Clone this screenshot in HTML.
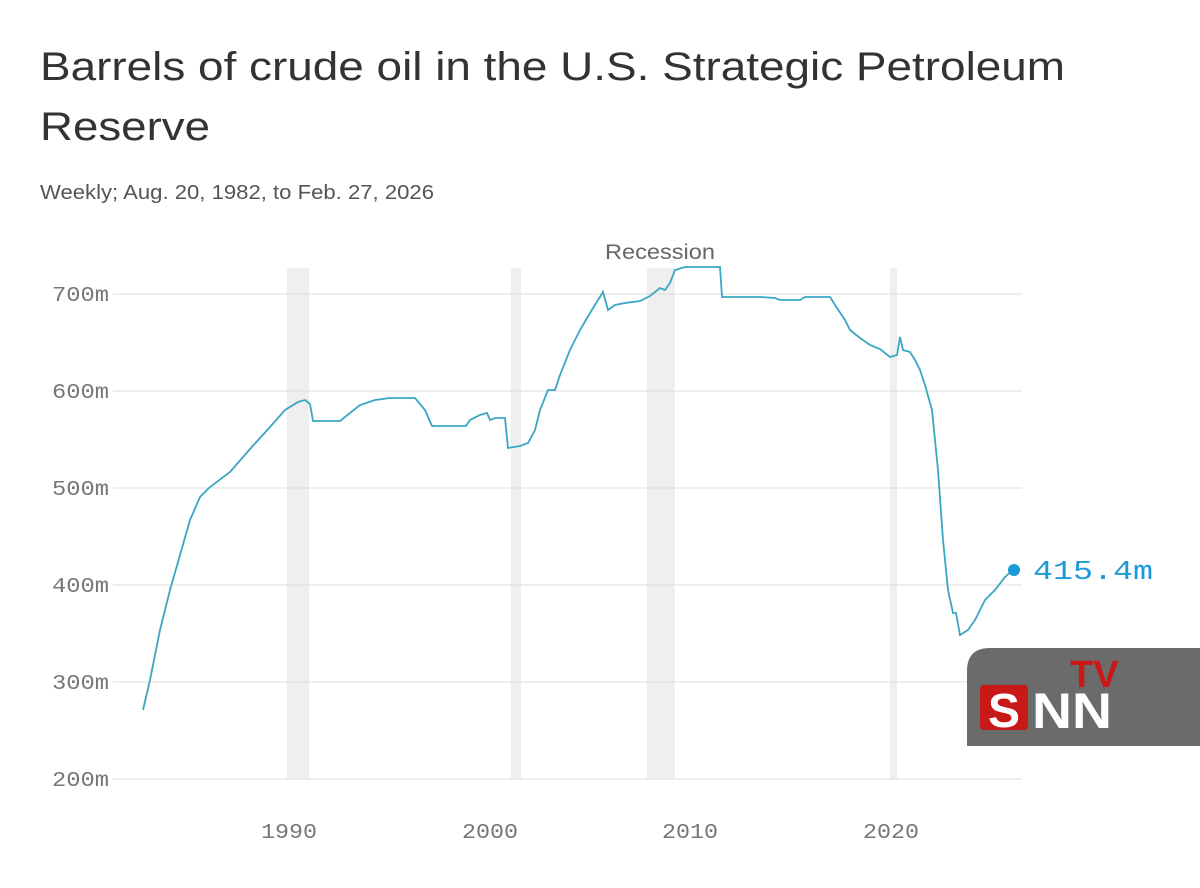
<!DOCTYPE html>
<html><head><meta charset="utf-8"><style>
body{margin:0;width:1200px;height:883px;background:#fff;overflow:hidden;font-family:"Liberation Sans",sans-serif;}
</style></head><body>
<svg width="1200" height="883" viewBox="0 0 1200 883" xmlns="http://www.w3.org/2000/svg">
<text x="40" y="80" font-size="40" fill="#333" font-family="Liberation Sans" textLength="1025" lengthAdjust="spacingAndGlyphs">Barrels of crude oil in the U.S. Strategic Petroleum</text>
<text x="40" y="140" font-size="40" fill="#333" font-family="Liberation Sans" textLength="170" lengthAdjust="spacingAndGlyphs">Reserve</text>
<text x="40" y="199" font-size="20" fill="#555" font-family="Liberation Sans" textLength="394" lengthAdjust="spacingAndGlyphs">Weekly; Aug. 20, 1982, to Feb. 27, 2026</text>
<g fill="#efefef">
<rect x="287" y="268" width="22" height="511"/>
<rect x="511" y="268" width="10" height="511"/>
<rect x="647" y="268" width="28" height="511"/>
<rect x="890" y="268" width="7" height="511"/>
</g>
<g stroke="#ddd" stroke-width="1">
<line x1="113" y1="294" x2="1022" y2="294"/><line x1="113" y1="391" x2="1022" y2="391"/>
<line x1="113" y1="488" x2="1022" y2="488"/><line x1="113" y1="585" x2="1022" y2="585"/>
<line x1="113" y1="682" x2="1022" y2="682"/><line x1="113" y1="779" x2="1022" y2="779"/>
</g>
<g font-family="Liberation Mono" font-size="21" fill="#777">
<text x="52" y="301" textLength="57" lengthAdjust="spacingAndGlyphs">700m</text>
<text x="52" y="398" textLength="57" lengthAdjust="spacingAndGlyphs">600m</text>
<text x="52" y="495" textLength="57" lengthAdjust="spacingAndGlyphs">500m</text>
<text x="52" y="592" textLength="57" lengthAdjust="spacingAndGlyphs">400m</text>
<text x="52" y="689" textLength="57" lengthAdjust="spacingAndGlyphs">300m</text>
<text x="52" y="786" textLength="57" lengthAdjust="spacingAndGlyphs">200m</text>
</g>
<g font-family="Liberation Mono" font-size="21" fill="#777">
<text x="261" y="838" textLength="56" lengthAdjust="spacingAndGlyphs">1990</text>
<text x="462" y="838" textLength="56" lengthAdjust="spacingAndGlyphs">2000</text>
<text x="662" y="838" textLength="56" lengthAdjust="spacingAndGlyphs">2010</text>
<text x="863" y="838" textLength="56" lengthAdjust="spacingAndGlyphs">2020</text>
</g>
<text x="605" y="259" font-size="21" fill="#666" textLength="110" lengthAdjust="spacingAndGlyphs">Recession</text>
<polyline fill="none" stroke="#3aa6c4" stroke-width="1.8" points="143,710 150,680 160,630 170,590 180,555 190,520 200,497 210,487 230,472 250,449 270,427 285,410 298,402 305,400 310,404 313,421 340,421 350,413 360,405 375,400 390,398 415,398 425,410 432,426 466,426 470,420 480,415 487,413 490,420 495,418 505,418 508,448 520,446 528,443 535,430 540,410 548,390 555,390 560,375 570,350 580,330 590,313 598,300 603,292 608,310 615,305 625,303 640,301 650,296 660,288 665,290 670,283 675,270 685,267 720,267 722,297 745,297 760,297 775,298 780,300 800,300 805,297 830,297 835,305 845,320 850,330 860,338 870,345 880,349 890,357 897,355 900,337 903,350 910,352 915,360 920,370 925,385 932,410 938,470 943,540 948,590 953,613 956,613 960,635 968,630 975,620 985,600 995,590 1005,577 1013,570"/>
<circle cx="1014" cy="570" r="6" fill="#1a9ad6"/>
<text x="1033" y="579" font-family="Liberation Mono" font-size="27" fill="#1a9ad6" textLength="120" lengthAdjust="spacingAndGlyphs">415.4m</text>
<path d="M1200,648 L990,648 Q967,648 967,671 L967,746 L1200,746 Z" fill="#6b6b6b"/>
<rect x="980" y="685" width="48" height="45" rx="4" fill="#c81818"/>
<text x="1004" y="727" font-size="48" font-weight="bold" fill="#fff" text-anchor="middle" font-family="Liberation Sans">S</text>
<text x="1032" y="728" font-size="50" font-weight="bold" fill="#fff" font-family="Liberation Sans" textLength="80" lengthAdjust="spacingAndGlyphs">NN</text>
<text x="1070" y="687" font-size="38" font-weight="bold" fill="#c81818" font-family="Liberation Sans">TV</text>
</svg>
</body></html>
